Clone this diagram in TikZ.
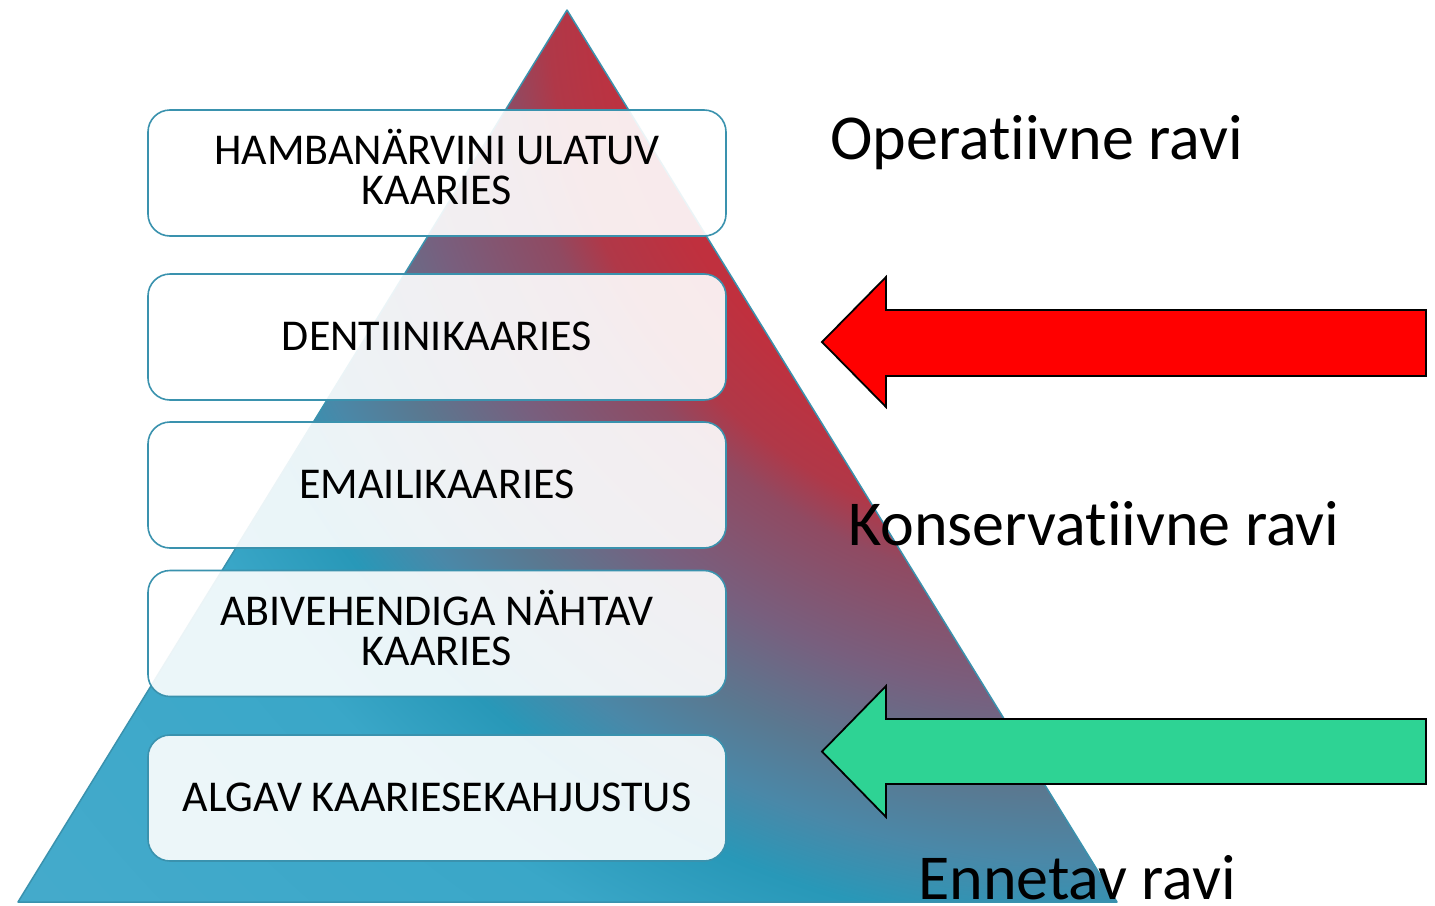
\documentclass[tikz,border=0pt]{standalone}
\usepackage{fontspec}
\setmainfont{Carlito}[Ligatures=NoCommon]
\definecolor{pblueA}{HTML}{46ABCC}
\definecolor{pblueB}{HTML}{3AA7C8}
\definecolor{pblueC}{HTML}{2898B8}
\definecolor{pblueD}{HTML}{4A88A8}
\definecolor{pgreyblue}{HTML}{5A7890}
\definecolor{ppurple}{HTML}{785F7E}
\definecolor{pmauve}{HTML}{904A62}
\definecolor{predA}{HTML}{B03848}
\definecolor{predB}{HTML}{C0303E}
\definecolor{edgeteal}{HTML}{3A92AE}
\definecolor{arrowred}{HTML}{FF0000}
\definecolor{arrowgreen}{HTML}{2ED394}

% red glow spreading from the upper right into blue
\pgfdeclareradialshading{pyramidglow}{\pgfpoint{0bp}{0bp}}{color(0bp)=(predB); color(470bp)=(predB);
  color(550bp)=(predA); color(595bp)=(pmauve); color(700bp)=(ppurple); color(790bp)=(pgreyblue);
  color(860bp)=(pblueD); color(930bp)=(pblueC); color(1040bp)=(pblueB); color(1450bp)=(pblueA)}

\tikzset{
  stage/.style={draw=edgeteal, line width=1.6pt, fill=white, fill opacity=0.9,
    rounded corners=22pt, minimum width=578pt, minimum height=126pt, inner sep=0pt},
  stagetext/.style={align=center, inner sep=0pt, font=\fontsize{44}{40}\selectfont},
  blockarrow/.style={draw=black, line width=1.8pt, line join=miter},
  biglabel/.style={anchor=base west, inner sep=0pt, font=\fontsize{64}{70}\selectfont}
}

\begin{document}
\begin{tikzpicture}[x=1pt,y=-1pt]
\useasboundingbox (0,0) rectangle (1435,905);
\fill[white] (0,0) rectangle (1435,905);

% pyramid
\begin{scope}
  \clip (567,10) -- (1117,902) -- (18,902) -- cycle;
  \pgftransformshift{\pgfpointxy{1100}{0}}
  \pgflowlevelsynccm
  \pgfuseshading{pyramidglow}
\end{scope}
\draw[edgeteal, line width=1.5pt, line join=round] (567,10) -- (1117,902) -- (18,902) -- cycle;

% stage boxes
\node[stage] (b1) at (437,173) {};
\node[stage] (b2) at (437,337) {};
\node[stage] (b3) at (437,485) {};
\node[stage] (b4) at (437,633.5) {};
\node[stage] (b5) at (437,798) {};

% stage texts
\node[stagetext] (t1) at (437,167.5) {HAMBANÄRVINI ULATUV\\KAARIES};
\node[stagetext] (t2) at (437,336) {DENTIINIKAARIES};
\node[stagetext] (t3) at (437,484) {EMAILIKAARIES};
\node[stagetext] (t4) at (437,628) {ABIVEHENDIGA NÄHTAV\\KAARIES};
\node[stagetext] (t5) at (437,797) {ALGAV KAARIESEKAHJUSTUS};

% arrows
\draw[blockarrow, fill=arrowred] (822,342) -- (886,277) -- (886,310) -- (1426,310)
  -- (1426,376) -- (886,376) -- (886,407) -- cycle;
\draw[blockarrow, fill=arrowgreen] (822,751.5) -- (886,686) -- (886,719) -- (1426,719)
  -- (1426,784) -- (886,784) -- (886,817) -- cycle;

% treatment labels (kern keeps t and i as separate glyphs)
\node[biglabel] (op) at (830,159) {Operat\kern0pt iivne ravi};
\node[biglabel] (ko) at (848,545) {Konservat\kern0pt iivne ravi};
\node[biglabel] (en) at (918,899) {Ennetav ravi};
\end{tikzpicture}
\end{document}
